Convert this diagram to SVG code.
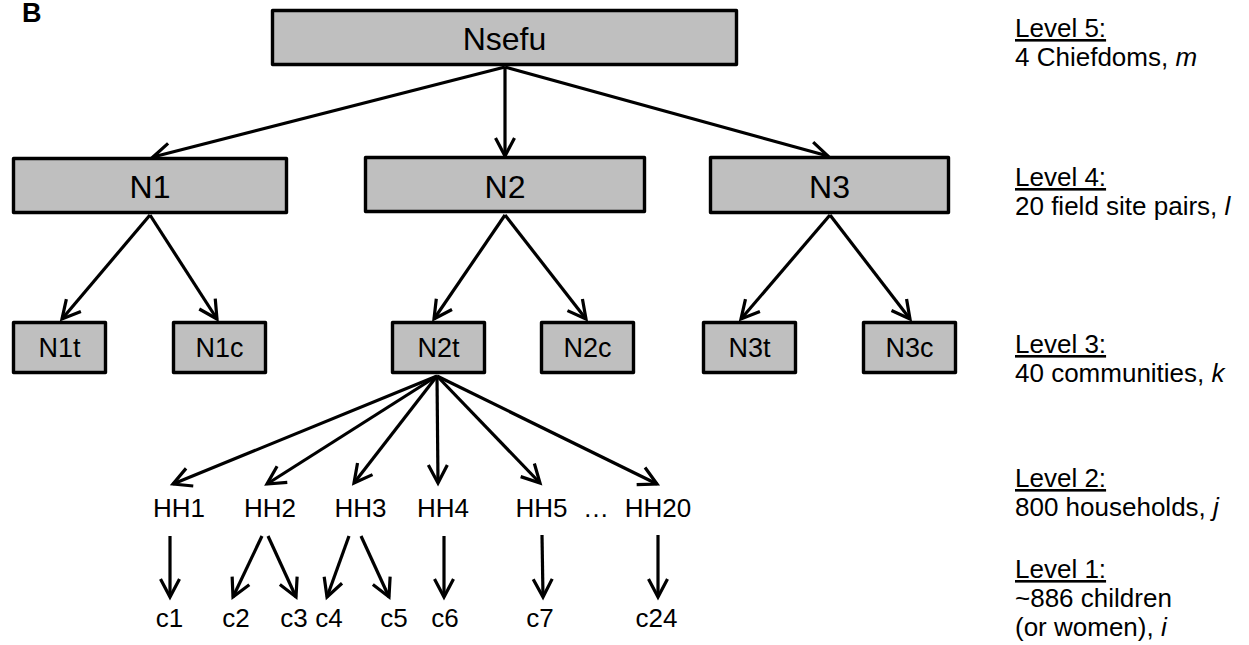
<svg xmlns="http://www.w3.org/2000/svg" width="1249" height="645" viewBox="0 0 1249 645">
<style>
text{font-family:"Liberation Sans",Arial,sans-serif;fill:#000}
.box{fill:#bfbfbf;stroke:#000;stroke-width:3.4;stroke-linejoin:round}
.big{font-size:32px;text-anchor:middle}
.mid{font-size:27px;text-anchor:middle}
.lbl{font-size:26px;text-anchor:middle}
.lev{font-size:26px}
.u{text-decoration:underline}
.e{stroke:#000;stroke-width:3.2;fill:none;marker-end:url(#ah)}
</style>
<defs>
<marker id="ah" markerUnits="userSpaceOnUse" viewBox="-22 -12 26 24" refX="0" refY="0" markerWidth="26" markerHeight="24" orient="auto">
<path d="M-18,-9.5 L0,0 L-18,9.5" fill="none" stroke="#000" stroke-width="3.2" stroke-linejoin="miter"/>
</marker>
</defs>
<text x="22" y="22" font-size="27" font-weight="bold">B</text>
<g id="connectors">
<line class="e" x1="505" y1="67" x2="153" y2="157"/>
<line class="e" x1="505" y1="67" x2="505" y2="156"/>
<line class="e" x1="505" y1="67" x2="828" y2="156"/>
<line class="e" x1="150" y1="215" x2="62" y2="319"/>
<line class="e" x1="150" y1="215" x2="217" y2="319"/>
<line class="e" x1="505" y1="215" x2="434" y2="319"/>
<line class="e" x1="505" y1="215" x2="586" y2="319"/>
<line class="e" x1="830" y1="215" x2="741" y2="319"/>
<line class="e" x1="830" y1="215" x2="910" y2="319"/>
<line class="e" x1="437" y1="376" x2="173" y2="484"/>
<line class="e" x1="437" y1="376" x2="267" y2="484"/>
<line class="e" x1="437" y1="376" x2="354" y2="483"/>
<line class="e" x1="437" y1="376" x2="438" y2="483"/>
<line class="e" x1="437" y1="376" x2="540" y2="483"/>
<line class="e" x1="437" y1="376" x2="657" y2="484"/>
<line class="e" x1="170" y1="536" x2="170" y2="597"/>
<line class="e" x1="262" y1="536" x2="233" y2="597"/>
<line class="e" x1="268" y1="536" x2="296" y2="597"/>
<line class="e" x1="349" y1="536" x2="327" y2="597"/>
<line class="e" x1="361" y1="536" x2="389" y2="597"/>
<line class="e" x1="444" y1="536" x2="444" y2="597"/>
<line class="e" x1="542" y1="535" x2="543" y2="597"/>
<line class="e" x1="658" y1="535" x2="658" y2="597"/>
</g>
<g id="nsefu"><rect class="box" x="272.5" y="10.5" width="464" height="54"/><text class="big" x="504.5" y="50">Nsefu</text></g>
<g id="n1"><rect class="box" x="13.5" y="158.5" width="273" height="54"/><text class="big" x="150" y="198">N1</text></g>
<g id="n2"><rect class="box" x="365.5" y="157.5" width="279" height="54"/><text class="big" x="505" y="198">N2</text></g>
<g id="n3"><rect class="box" x="710.5" y="157.5" width="238" height="55"/><text class="big" x="829.5" y="198">N3</text></g>
<g id="n1t"><rect class="box" x="13.5" y="322.5" width="92" height="50"/><text class="mid" x="59.5" y="357">N1t</text></g>
<g id="n1c"><rect class="box" x="173.5" y="322.5" width="92" height="50"/><text class="mid" x="219.5" y="357">N1c</text></g>
<g id="n2t"><rect class="box" x="392.5" y="322.5" width="92" height="50"/><text class="mid" x="438.5" y="357">N2t</text></g>
<g id="n2c"><rect class="box" x="541.5" y="322.5" width="92" height="50"/><text class="mid" x="587.5" y="357">N2c</text></g>
<g id="n3t"><rect class="box" x="703.5" y="322.5" width="92" height="50"/><text class="mid" x="749.5" y="357">N3t</text></g>
<g id="n3c"><rect class="box" x="863.5" y="322.5" width="92" height="50"/><text class="mid" x="909.5" y="357">N3c</text></g>
<g id="hh1"><text class="lbl" x="179" y="517">HH1</text></g>
<g id="hh2"><text class="lbl" x="270" y="517">HH2</text></g>
<g id="hh3"><text class="lbl" x="360.5" y="517">HH3</text></g>
<g id="hh4"><text class="lbl" x="443" y="517">HH4</text></g>
<g id="hh5"><text class="lbl" x="541.5" y="517">HH5</text></g>
<g id="ellipsis"><text class="lbl" x="596" y="517">…</text></g>
<g id="hh20"><text class="lbl" x="658" y="517">HH20</text></g>
<g id="c1"><text class="lbl" x="169.5" y="627">c1</text></g>
<g id="c2"><text class="lbl" x="236" y="627">c2</text></g>
<g id="c3"><text class="lbl" x="294" y="627">c3</text></g>
<g id="c4"><text class="lbl" x="329" y="627">c4</text></g>
<g id="c5"><text class="lbl" x="394" y="627">c5</text></g>
<g id="c6"><text class="lbl" x="445" y="627">c6</text></g>
<g id="c7"><text class="lbl" x="540" y="627">c7</text></g>
<g id="c24"><text class="lbl" x="656.5" y="627">c24</text></g>
<g id="levels">
<text class="lev u" x="1015" y="37">Level 5:</text>
<text class="lev" x="1015" y="66">4 Chiefdoms, <tspan font-style="italic">m</tspan></text>
<text class="lev u" x="1015" y="186">Level 4:</text>
<text class="lev" x="1015" y="215">20 field site pairs, <tspan font-style="italic">l</tspan></text>
<text class="lev u" x="1015" y="353">Level 3:</text>
<text class="lev" x="1015" y="382">40 communities, <tspan font-style="italic">k</tspan></text>
<text class="lev u" x="1015" y="487">Level 2:</text>
<text class="lev" x="1015" y="516">800 households, <tspan font-style="italic">j</tspan></text>
<text class="lev u" x="1015" y="578">Level 1:</text>
<text class="lev" x="1015" y="607">~886 children</text>
<text class="lev" x="1015" y="636">(or women), <tspan font-style="italic">i</tspan></text>
</g>
</svg>
